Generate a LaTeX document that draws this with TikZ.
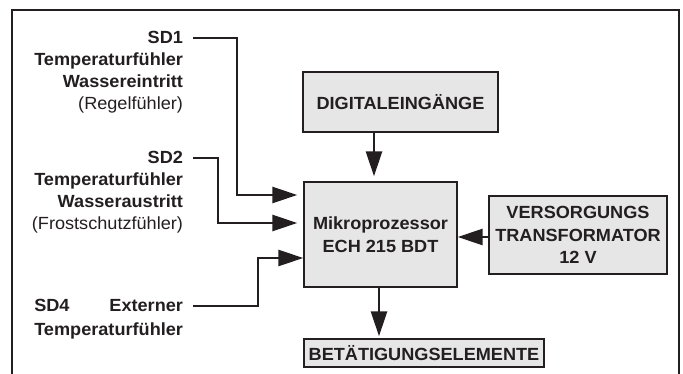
\documentclass[tikz,border=0pt]{standalone}
\usepackage{fontspec}
\setmainfont[FakeStretch=1.03]{Liberation Sans}
\usepackage{calc}
\usetikzlibrary{arrows.meta}
\definecolor{ink}{HTML}{231F20}
\definecolor{boxgray}{HTML}{E6E6E6}
\tikzset{
	blk/.style={draw=ink, line width=1.4pt, fill=boxgray, align=center, inner sep=0pt, text=ink, font=\bfseries\fontsize{17.6}{22.5}\selectfont},
	lbl/.style={anchor=base east, inner sep=0pt, outer xsep=10pt, text=ink, font=\bfseries\fontsize{17.6}{22.5}\selectfont},
	lblr/.style={lbl, font=\fontsize{17.6}{22.5}\selectfont},
	wire/.style={line width=2.8pt, draw=ink},
	feed/.style={wire, -{Triangle[length=25pt,width=16pt]}}
}

\begin{document}
\begin{tikzpicture}[x=1pt, y=-1pt]
		%%%%% START %%%%%
		\useasboundingbox (0,0) rectangle (683,374);
		
		\draw[line width=1.5pt, color=ink] (12,374) -- (12,10) -- (679,10) -- (679,374);
		
		\node[blk, minimum width=195, minimum height=60] (digital) at (400.5,102) {DIGITALEINGÄNGE};
		\node[blk, minimum width=153, minimum height=105] (micro) at (380.5,234.5) {Mikroprozessor\\ECH 215 BDT};
		\node[blk, minimum width=178, minimum height=78] (trafo) at (578,235) {VERSORGUNGS\\TRANSFORMATOR\\12 V};
		\node[blk, minimum width=240, minimum height=28] (bet) at (424,353) {BETÄTIGUNGSELEMENTE};
		
		\node[lbl] (sdone) at (193,44) {SD1};
		\node[lbl] (sdonea) at (193,66) {Temperaturfühler};
		\node[lbl] (sdoneb) at (193,88) {Wassereintritt};
		\node[lblr] (sdonec) at (193,110) {(Regelfühler)};
		
		\node[lbl] (sdtwo) at (193,164) {SD2};
		\node[lbl] (sdtwoa) at (193,186) {Temperaturfühler};
		\node[lbl] (sdtwob) at (193,208) {Wasseraustritt};
		\node[lblr] (sdtwoc) at (193,230) {(Frostschutzfühler)};
		
		\node[lbl] (sdfour) at (193,312) {\makebox[\widthof{Temperaturfühler}]{SD4\hfill Externer}};
		\node[lbl] (sdfoura) at (193,335) {Temperaturfühler};
		
		\draw[feed, shorten >=6pt] (sdone.east) -| (237,195) -- (micro.west |- 0,195);
		\draw[feed, shorten >=6pt] (sdtwo.east) -| (218,223) -- (micro.west |- 0,223);
		\draw[feed] (sdfour.east) -| (258,258) -- (micro.west |- 0,258);
		
		\draw[feed, shorten >=5pt] (digital.south -| 374,0) -- (micro.north -| 374,0);
		\draw[feed] (trafo.west |- 0,237) -- (micro.east |- 0,237);
		\draw[feed, shorten >=2pt] (micro.south -| 379,0) -- (bet.north -| 379,0);
		
		%%%%% END %%%%%
	\end{tikzpicture}
\end{document}
